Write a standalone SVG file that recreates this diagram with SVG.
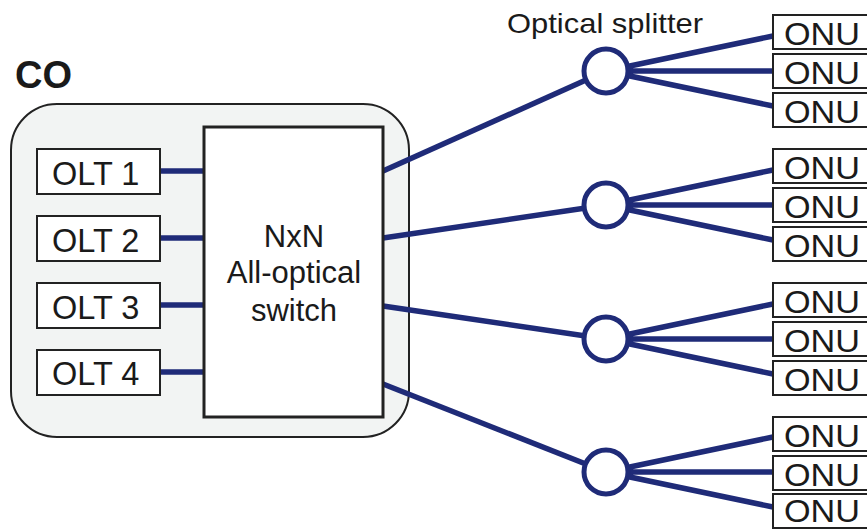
<svg xmlns="http://www.w3.org/2000/svg" width="867" height="529" viewBox="0 0 867 529">
<style>
.t{font-family:"Liberation Sans",Arial,sans-serif;fill:#1a1a1a}
.box{fill:#fff;stroke:#222;stroke-width:2}
.fib{stroke:#1f2b78;stroke-width:5.5;fill:none}
.spl{fill:#fff;stroke:#1f2b78;stroke-width:5}
.onu{font-size:31px}
.olt{font-size:32.5px}
.sw{font-size:31px}
</style>
<rect width="867" height="529" fill="#fff"/>
<g id="co">
<rect x="11" y="104" width="398" height="333" rx="46" fill="#f2f4f3" stroke="#222" stroke-width="2"/>
<text class="t" x="15" y="88" font-size="38" font-weight="bold">CO</text>
</g>
<g id="connectors">
<line class="fib" x1="160" y1="171" x2="204" y2="171"/>
<line class="fib" x1="160" y1="238" x2="204" y2="238"/>
<line class="fib" x1="160" y1="305" x2="204" y2="305"/>
<line class="fib" x1="160" y1="372" x2="204" y2="372"/>
<line class="fib" x1="383" y1="171" x2="606" y2="71"/>
<line class="fib" x1="383" y1="238" x2="606" y2="205"/>
<line class="fib" x1="383" y1="306" x2="606" y2="339"/>
<line class="fib" x1="383" y1="384" x2="606" y2="472"/>
<path class="fib" d="M606 71L773 36M606 71L773 71M606 71L773 106"/>
<path class="fib" d="M606 205L773 170M606 205L773 205M606 205L773 240"/>
<path class="fib" d="M606 339L773 304M606 339L773 339M606 339L773 374"/>
<path class="fib" d="M606 472L773 437M606 472L773 472M606 472L773 507"/>
</g>
<g id="olt1"><rect class="box" x="37" y="149" width="123" height="45"/><text class="t olt" x="52" y="185">OLT 1</text></g>
<g id="olt2"><rect class="box" x="37" y="216" width="123" height="45"/><text class="t olt" x="52" y="252">OLT 2</text></g>
<g id="olt3"><rect class="box" x="37" y="283" width="123" height="45"/><text class="t olt" x="52" y="319">OLT 3</text></g>
<g id="olt4"><rect class="box" x="37" y="350" width="123" height="45"/><text class="t olt" x="52" y="385">OLT 4</text></g>
<g id="switch">
<rect x="204" y="127" width="179" height="290" fill="#fff" stroke="#222" stroke-width="3"/>
<text class="t sw" x="294" y="247" text-anchor="middle">NxN</text>
<text class="t sw" x="294" y="283" text-anchor="middle">All-optical</text>
<text class="t sw" x="294" y="321" text-anchor="middle">switch</text>
</g>
<g id="splitter-label"><text class="t" x="507" y="33" font-size="28" textLength="196" lengthAdjust="spacingAndGlyphs">Optical splitter</text></g>
<g id="splitter1"><circle class="spl" cx="606" cy="71" r="22"/></g>
<g id="splitter2"><circle class="spl" cx="606" cy="205" r="22"/></g>
<g id="splitter3"><circle class="spl" cx="606" cy="339" r="22"/></g>
<g id="splitter4"><circle class="spl" cx="606" cy="472" r="22"/></g>
<g id="onu1"><rect class="box" x="773" y="15" width="120" height="34"/><text class="t onu" x="784" y="45" textLength="76" lengthAdjust="spacingAndGlyphs">ONU</text></g>
<g id="onu2"><rect class="box" x="773" y="54" width="120" height="34"/><text class="t onu" x="784" y="84" textLength="76" lengthAdjust="spacingAndGlyphs">ONU</text></g>
<g id="onu3"><rect class="box" x="773" y="93" width="120" height="34"/><text class="t onu" x="784" y="123" textLength="76" lengthAdjust="spacingAndGlyphs">ONU</text></g>
<g id="onu4"><rect class="box" x="773" y="149" width="120" height="34"/><text class="t onu" x="784" y="179" textLength="76" lengthAdjust="spacingAndGlyphs">ONU</text></g>
<g id="onu5"><rect class="box" x="773" y="188" width="120" height="34"/><text class="t onu" x="784" y="218" textLength="76" lengthAdjust="spacingAndGlyphs">ONU</text></g>
<g id="onu6"><rect class="box" x="773" y="227" width="120" height="34"/><text class="t onu" x="784" y="257" textLength="76" lengthAdjust="spacingAndGlyphs">ONU</text></g>
<g id="onu7"><rect class="box" x="773" y="283" width="120" height="34"/><text class="t onu" x="784" y="313" textLength="76" lengthAdjust="spacingAndGlyphs">ONU</text></g>
<g id="onu8"><rect class="box" x="773" y="322" width="120" height="34"/><text class="t onu" x="784" y="352" textLength="76" lengthAdjust="spacingAndGlyphs">ONU</text></g>
<g id="onu9"><rect class="box" x="773" y="361" width="120" height="34"/><text class="t onu" x="784" y="391" textLength="76" lengthAdjust="spacingAndGlyphs">ONU</text></g>
<g id="onu10"><rect class="box" x="773" y="417" width="120" height="34"/><text class="t onu" x="784" y="447" textLength="76" lengthAdjust="spacingAndGlyphs">ONU</text></g>
<g id="onu11"><rect class="box" x="773" y="456" width="120" height="34"/><text class="t onu" x="784" y="486" textLength="76" lengthAdjust="spacingAndGlyphs">ONU</text></g>
<g id="onu12"><rect class="box" x="773" y="494" width="120" height="34"/><text class="t onu" x="784" y="522" textLength="76" lengthAdjust="spacingAndGlyphs">ONU</text></g>
</svg>
